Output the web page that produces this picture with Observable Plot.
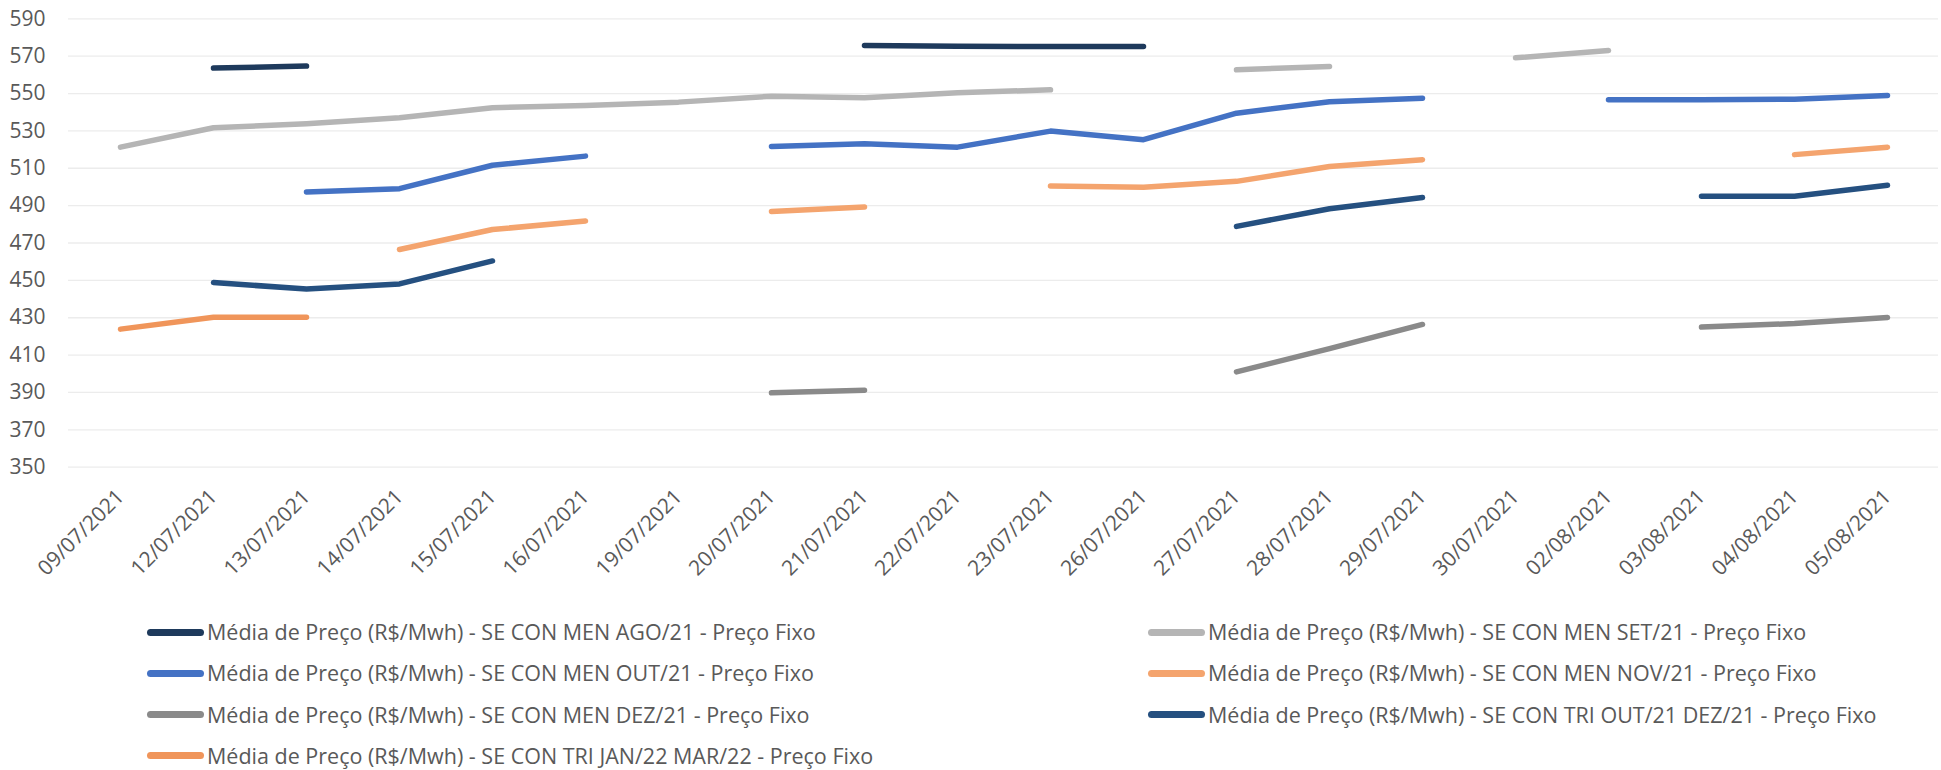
<!DOCTYPE html>
<html>
<head>
<meta charset="utf-8">
<script src="https://cdn.jsdelivr.net/npm/d3@7"></script>
<script src="https://cdn.jsdelivr.net/npm/@observablehq/plot@0.6"></script>
<style>
  html, body { margin: 0; padding: 0; background: #fff; }
  #chart { width: 1941px; height: 770px; position: relative; overflow: hidden; font-family: "Open Sans", sans-serif; }
  #legend { position: absolute; left: 0; top: 600px; width: 1941px; height: 170px; }
  .item { position: absolute; height: 24px; line-height: 24px; display: flex; align-items: center; font-size: 21.5px; color: #595959; white-space: nowrap; }
  .sw { width: 57px; height: 7px; border-radius: 3.5px; margin-right: 3px; }
</style>
</head>
<body>
<div id="chart"></div>
<script>
const dates = ["09/07/2021","12/07/2021","13/07/2021","14/07/2021","15/07/2021","16/07/2021","19/07/2021","20/07/2021","21/07/2021","22/07/2021","23/07/2021","26/07/2021","27/07/2021","28/07/2021","29/07/2021","30/07/2021","02/08/2021","03/08/2021","04/08/2021","05/08/2021"];

const seriesNames = [
  "Média de Preço (R$/Mwh) - SE CON MEN AGO/21 - Preço Fixo",
  "Média de Preço (R$/Mwh) - SE CON MEN SET/21 - Preço Fixo",
  "Média de Preço (R$/Mwh) - SE CON MEN OUT/21 - Preço Fixo",
  "Média de Preço (R$/Mwh) - SE CON MEN NOV/21 - Preço Fixo",
  "Média de Preço (R$/Mwh) - SE CON MEN DEZ/21 - Preço Fixo",
  "Média de Preço (R$/Mwh) - SE CON TRI OUT/21 DEZ/21 - Preço Fixo",
  "Média de Preço (R$/Mwh) - SE CON TRI JAN/22 MAR/22 - Preço Fixo"
];
const seriesColors = ["#1e3a5c", "#b5b5b5", "#4472c4", "#f4a46e", "#8a8a8a", "#255080", "#f0955a"];

const agoValues   = [null, 563.6, 564.7, null, null, null, null, null, 575.7, 575.3, 575.2, 575.2, null, null, null, null, null, null, null, null];
const setValues   = [521.3, 531.7, 533.8, 537.0, 542.4, 543.6, 545.4, 548.6, 547.7, 550.4, 552.0, null, 562.7, 564.5, null, 569.1, 573.0, null, null, null];
const outValues   = [null, null, 497.3, 499.1, 511.6, 516.5, null, 521.7, 523.1, 521.3, 529.9, 525.3, 539.5, 545.6, 547.5, null, 546.7, 546.7, 547.0, 549.0];
const novValues   = [null, null, null, 466.5, 477.2, 481.8, null, 486.9, 489.3, null, 500.5, 499.9, 503.0, 510.9, 514.6, null, null, null, 517.3, 521.3];
const dezValues   = [null, null, null, null, null, null, null, 389.8, 391.2, null, null, null, 401.0, 413.5, 426.4, null, null, 425.0, 426.9, 430.1];
const triOutDezValues = [null, 448.8, 445.4, 448.1, 460.4, null, null, null, null, null, null, null, 478.9, 488.3, 494.3, null, null, 495.0, 495.0, 500.9];
const triJanMarValues = [423.9, 430.3, 430.3, null, null, null, null, null, null, null, null, null, null, null, null, null, null, null, null, null];

const yTicks = [350, 370, 390, 410, 430, 450, 470, 490, 510, 530, 550, 570, 590];

const allValues = [agoValues, setValues, outValues, novValues, dezValues, triOutDezValues, triJanMarValues];
const rows = [];
allValues.forEach((vals, si) => {
  vals.forEach((v, di) => rows.push({date: dates[di], value: v, series: seriesNames[si]}));
});

const plot = Plot.plot({
  width: 1941,
  height: 600,
  marginLeft: 68,
  marginRight: 3,
  marginTop: 18.3,
  marginBottom: 133.3,
  style: {fontFamily: "'Open Sans', sans-serif", fontSize: "21px", color: "#595959", background: "#fff"},
  x: {type: "point", domain: dates, padding: 0.5, label: null},
  y: {domain: [350, 590], label: null},
  color: {domain: seriesNames, range: seriesColors},
  marks: [
    Plot.ruleY(yTicks, {stroke: "#ececec", strokeWidth: 1.3}),
    Plot.axisY({ticks: yTicks, tickSize: 0, tickPadding: 23, label: null, fontSize: 21}),
    Plot.axisX({tickSize: 0, tickPadding: 26, tickRotate: -45, label: null, fontSize: 21}),
    Plot.line(rows, {x: "date", y: "value", z: "series", stroke: "series", strokeWidth: 5.5, strokeLinecap: "round", strokeLinejoin: "round"})
  ]
});
document.getElementById("chart").appendChild(plot);

const legend = document.createElement("div");
legend.id = "legend";
const colX = [147, 1148];
seriesNames.forEach((name, i) => {
  const item = document.createElement("div");
  item.className = "item";
  item.style.left = colX[i % 2] + "px";
  item.style.top = (20 + Math.floor(i / 2) * 41.3) + "px";
  const sw = document.createElement("div");
  sw.className = "sw";
  sw.style.background = seriesColors[i];
  const tx = document.createElement("span");
  tx.textContent = name;
  item.appendChild(sw);
  item.appendChild(tx);
  legend.appendChild(item);
});
document.getElementById("chart").appendChild(legend);
</script>
</body>
</html>
